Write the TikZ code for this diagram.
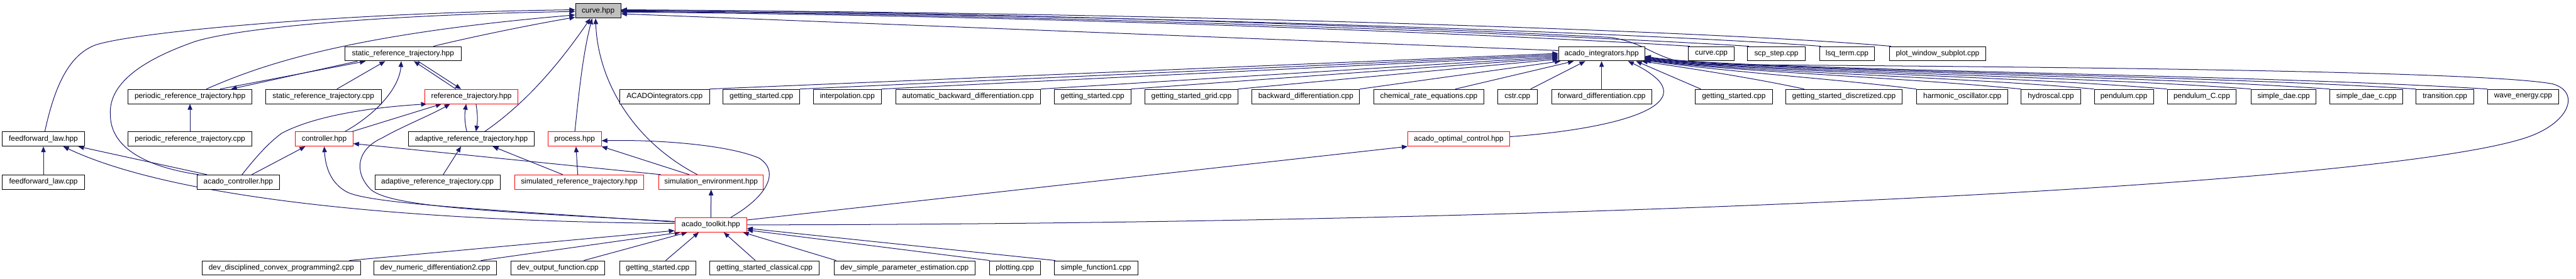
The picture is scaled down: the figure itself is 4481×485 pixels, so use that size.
\documentclass[tikz,border=0pt]{standalone}
\usepackage{fontspec}
\setmainfont{Liberation Sans}
\usetikzlibrary{arrows.meta}
\definecolor{edgeblue}{HTML}{191970}
\definecolor{curvegrey}{HTML}{BFBFBF}
\pgfdeclarelayer{bg}
\pgfsetlayers{bg,main}
\tikzset{
  box/.style={draw=black, line width=1pt, fill=white, minimum height=25pt, inner sep=0pt, font=\fontsize{13}{15}\selectfont},
  redbox/.style={box, draw=red},
  greybox/.style={box, fill=curvegrey},
  dep/.style={draw=edgeblue, line width=1.1pt, -{Triangle[length=10pt,width=8pt]}, fill=none},
}
\begin{document}
\begin{tikzpicture}[x=1pt,y=-1pt]
\useasboundingbox (0,0) rectangle (4481,485);
% row 0
\node[greybox, minimum width=79pt] (curve) at (1040.5,19) {curve.hpp};
% row 1
\node[box, minimum width=202pt] (srth) at (701,93.5) {static\_reference\_trajectory.hpp};
\node[box, minimum width=150pt] (aih) at (2786,93.5) {acado\_integrators.hpp};
\node[box, minimum width=80pt] (curvec) at (2977,93.5) {curve.cpp};
\node[box, minimum width=100pt] (scp) at (3090,93.5) {scp\_step.cpp};
\node[box, minimum width=96pt] (lsq) at (3213,93.5) {lsq\_term.cpp};
\node[box, minimum width=167pt] (pws) at (3370.5,93.5) {plot\_window\_subplot.cpp};
% row 2
\node[box, minimum width=215pt] (prth) at (330.5,168) {periodic\_reference\_trajectory.hpp};
\node[box, minimum width=201pt] (srtc) at (562.5,168) {static\_reference\_trajectory.cpp};
\node[redbox, minimum width=162pt] (rth) at (820,168) {reference\_trajectory.hpp};
\node[box, minimum width=156pt] (aic) at (1156,168) {ACADOintegrators.cpp};
\node[box, minimum width=133pt] (gsa) at (1324.5,168) {getting\_started.cpp};
\node[box, minimum width=118pt] (interp) at (1474,168) {interpolation.cpp};
\node[box, minimum width=252pt] (abd) at (1684,168) {automatic\_backward\_differentiation.cpp};
\node[box, minimum width=133pt] (gsb) at (1900.5,168) {getting\_started.cpp};
\node[box, minimum width=161pt] (gsgrid) at (2072.5,168) {getting\_started\_grid.cpp};
\node[box, minimum width=187pt] (bd) at (2271.5,168) {backward\_differentiation.cpp};
\node[box, minimum width=191pt] (cre) at (2485.5,168) {chemical\_rate\_equations.cpp};
\node[box, minimum width=69pt] (cstr) at (2639.5,168) {cstr.cpp};
\node[box, minimum width=174pt] (fd) at (2786,168) {forward\_differentiation.cpp};
\node[box, minimum width=134pt] (gsc3) at (3016,168) {getting\_started.cpp};
\node[box, minimum width=203pt] (gsd) at (3207.5,168) {getting\_started\_discretized.cpp};
\node[box, minimum width=159pt] (ho) at (3413.5,168) {harmonic\_oscillator.cpp};
\node[box, minimum width=103pt] (hyd) at (3567.5,168) {hydroscal.cpp};
\node[box, minimum width=103pt] (pend) at (3694.5,168) {pendulum.cpp};
\node[box, minimum width=120pt] (pendc) at (3830,168) {pendulum\_C.cpp};
\node[box, minimum width=113pt] (sdae) at (3972.5,168) {simple\_dae.cpp};
\node[box, minimum width=127pt] (sdaec) at (4116.5,168) {simple\_dae\_c.cpp};
\node[box, minimum width=100pt] (trans) at (4253,168) {transition.cpp};
\node[box, minimum width=124pt] (wave) at (4389,168) {wave\_energy.cpp};
% row 3
\node[box, minimum width=143pt] (fflh) at (75.5,242) {feedforward\_law.hpp};
\node[box, minimum width=215pt] (prtc) at (330.5,242) {periodic\_reference\_trajectory.cpp};
\node[redbox, minimum width=100pt] (ctrl) at (564,242) {controller.hpp};
\node[box, minimum width=218pt] (arth) at (820,242) {adaptive\_reference\_trajectory.hpp};
\node[redbox, minimum width=93pt] (proc) at (999.5,242) {process.hpp};
\node[redbox, minimum width=177pt] (aoc) at (2537.5,242) {acado\_optimal\_control.hpp};
% row 4
\node[box, minimum width=143pt] (fflc) at (75.5,317) {feedforward\_law.cpp};
\node[box, minimum width=143pt] (ach) at (414.5,317) {acado\_controller.hpp};
\node[box, minimum width=218pt] (artc) at (761,317) {adaptive\_reference\_trajectory.cpp};
\node[redbox, minimum width=225pt] (simh) at (1007.5,317) {simulated\_reference\_trajectory.hpp};
\node[redbox, minimum width=182pt] (seh) at (1237,317) {simulation\_environment.hpp};
% row 5
\node[redbox, minimum width=125pt] (ath) at (1236.5,391.5) {acado\_toolkit.hpp};
% row 6
\node[box, minimum width=275pt] (ddcp) at (489.5,466.5) {dev\_disciplined\_convex\_programming2.cpp};
\node[box, minimum width=214pt] (dnd) at (757,466.5) {dev\_numeric\_differentiation2.cpp};
\node[box, minimum width=163pt] (dof) at (970.5,466.5) {dev\_output\_function.cpp};
\node[box, minimum width=132pt] (gsd4) at (1144,466.5) {getting\_started.cpp};
\node[box, minimum width=190pt] (gscl) at (1330,466.5) {getting\_started\_classical.cpp};
\node[box, minimum width=245pt] (dspe) at (1573.5,466.5) {dev\_simple\_parameter\_estimation.cpp};
\node[box, minimum width=89pt] (plot) at (1765.5,466.5) {plotting.cpp};
\node[box, minimum width=145pt] (sfa) at (1906.5,466.5) {simple\_function1.cpp};

\begin{pgfonlayer}{bg}
% into curve.hpp, left side
\draw[dep] ([xshift=2.5pt]fflh.north) .. controls (95,150) and (120,95) .. (167,78) .. controls (240,55) and (600,22) .. ([yshift=2pt]curve.west);
\draw[dep] ([xshift=3pt]ach.north west) .. controls (250,290) and (192,255) .. (192,200) .. controls (188,140) and (260,100) .. (340,72) .. controls (430,45) and (700,25) .. ([yshift=-1pt]curve.west);
\draw[dep] ([xshift=28.5pt]prth.north) .. controls (450,115) and (600,60) .. ([yshift=-7pt]curve.west);
\draw[dep] ([xshift=53pt]srth.north) .. controls (830,62) and (930,42) .. ([yshift=-11pt]curve.west);
% into curve.hpp, bottom
\draw[dep] ([xshift=23pt]arth.north) .. controls (900,190) and (960,130) .. ([xshift=-13.5pt]curve.south);
\draw[dep] ([xshift=0.5pt]proc.north) .. controls (1008,150) and (1015,90) .. ([xshift=-10.5pt]curve.south);
\draw[dep] ([xshift=-24pt]seh.north) .. controls (1100,245) and (1040,140) .. ([xshift=-4.5pt]curve.south);
% into curve.hpp, right side
\draw[dep] ([yshift=5.5pt]aih.west) -- ([yshift=-5pt]curve.east);
\draw[dep] ([xshift=3pt]curvec.north west) .. controls (2700,65) and (1900,28) .. ([yshift=-2pt]curve.east);
\draw[dep] ([xshift=3pt]scp.north west) .. controls (2800,65) and (1900,25) .. ([yshift=-1pt]curve.east);
\draw[dep] ([xshift=3pt]lsq.north west) .. controls (2900,60) and (2000,25) .. (curve.east);
\draw[dep] ([xshift=3pt]pws.north west) .. controls (3000,55) and (2000,20) .. ([yshift=1pt]curve.east);
\draw[dep] (ath.east) .. controls (2800,390) and (4150,320) .. (4393,240) .. controls (4470,215) and (4490,160) .. (4440,146) .. controls (4300,120) and (3300,115) .. (2960,112) .. controls (2880,108) and (2870,75) .. (2800,65) .. controls (2400,45) and (1700,20) .. ([yshift=2pt]curve.east);
% acado_toolkit out-edges
\draw[dep] ([yshift=8.5pt]ath.east) -- (aoc.south west);
\draw[dep] ([yshift=4pt]aoc.east) .. controls (2800,225) and (2930,190) .. (2885,140) .. controls (2870,125) and (2850,115) .. ([xshift=46pt]aih.south);
\draw[dep] ([yshift=2.5pt]ath.west) .. controls (700,385) and (300,345) .. ([xshift=34.5pt]fflh.south);
\draw[dep] ([yshift=5pt]ath.west) .. controls (850,365) and (650,355) .. (605,335) .. controls (575,320) and (566,290) .. (ctrl.south);
\draw[dep] ([yshift=6pt]ath.west) .. controls (850,368) and (680,360) .. (645,330) .. controls (615,300) and (620,260) .. (665,240) .. controls (700,220) and (750,200) .. ([xshift=-37pt]rth.south);
\draw[dep] (ath.north) -- (seh.south);
\draw[dep] ([xshift=34.5pt]ath.north) .. controls (1330,345) and (1360,300) .. (1320,275) .. controls (1260,250) and (1130,243) .. ([yshift=-3pt]proc.east);
% middle part
\draw[dep] ([xshift=-38pt]seh.north) -- (proc.south east);
\draw[dep] ([xshift=-2.5pt]simh.north) -- ([xshift=2.5pt]proc.south);
\draw[dep] ([xshift=-28.5pt]simh.north) -- ([xshift=37pt]arth.south);
\draw[dep] ([xshift=10pt]artc.north) -- ([xshift=-18pt]arth.south);
\draw[dep] ([xshift=4pt]seh.north west) -- ([yshift=-8pt]ctrl.east);
\draw[dep] ([xshift=23.5pt]ach.north) -- ([xshift=-33pt]ctrl.south);
\draw[dep] ([xshift=-54.5pt]ach.north) -- ([xshift=60.5pt]fflh.south);
\draw[dep] (fflc) -- (fflh);
\draw[dep] ([xshift=6.5pt]ach.north) .. controls (440,280) and (465,250) .. (490,232) .. controls (560,195) and (680,185) .. ([xshift=4pt]rth.south west);
\draw[dep] ([xshift=-2pt]ctrl.north east) -- ([xshift=-52pt]rth.south);
\draw[dep] ([xshift=36pt]ctrl.north) .. controls (660,195) and (695,150) .. ([xshift=-3pt]srth.south);
\draw[dep] ([xshift=23.5pt]srtc.north) -- ([xshift=-31pt]srth.south);
\draw[dep] ([xshift=52.5pt]prth.north) -- ([xshift=-65pt]srth.south);
\draw[dep] ([xshift=-79pt]srth.south) -- ([xshift=71.5pt]prth.north);
\draw[dep] (prtc) -- (prth);
\draw[dep] ([xshift=26pt]srth.south) -- ([xshift=-18pt]rth.north);
\draw[dep] ([xshift=-27pt]rth.north) -- ([xshift=19pt]srth.south);
\draw[dep] ([xshift=8pt]rth.south) .. controls (831,200) and (831,210) .. ([xshift=8pt]arth.north);
\draw[dep] ([xshift=-8pt]arth.north) .. controls (808,212) and (808,200) .. ([xshift=-9pt]rth.south);
% into acado_integrators.hpp from the left
\draw[dep] (aic.north east) -- ([yshift=0.5pt]aih.west);
\draw[dep] (gsa.north east) -- ([yshift=-1.5pt]aih.west);
\draw[dep] (interp.north east) -- ([yshift=-3.5pt]aih.west);
\draw[dep] (abd.north east) -- ([yshift=-5.5pt]aih.west);
\draw[dep] (gsb.north east) -- ([yshift=-7.5pt]aih.west);
\draw[dep] (gsgrid.north east) -- ([yshift=-9.5pt]aih.west);
\draw[dep] (bd.north east) -- ([xshift=4pt]aih.south west);
\draw[dep] ([xshift=-50pt]cre.north east) -- ([xshift=27pt]aih.south west);
\draw[dep] ([xshift=-12pt]cstr.north east) -- ([xshift=47pt]aih.south west);
\draw[dep] (fd.north) -- (aih.south);
% into acado_integrators.hpp from the right
\draw[dep] ([xshift=10pt]gsc3.north west) -- ([xshift=60pt]aih.south);
\draw[dep] ([xshift=33pt]gsd.north west) .. controls (3060,138) and (2960,122) .. ([xshift=70pt]aih.south);
\draw[dep] (ho.north west) .. controls (3180,136) and (3000,125) .. ([yshift=-11.5pt]aih.east);
\draw[dep] (hyd.north west) .. controls (3300,134) and (3000,124) .. ([yshift=-10.5pt]aih.east);
\draw[dep] (pend.north west) .. controls (3400,133) and (3000,124) .. ([yshift=-9.5pt]aih.east);
\draw[dep] (pendc.north west) .. controls (3500,132) and (3000,123) .. ([yshift=-8.5pt]aih.east);
\draw[dep] (sdae.north west) .. controls (3600,131) and (3000,123) .. ([yshift=-7.5pt]aih.east);
\draw[dep] (sdaec.north west) .. controls (3700,130) and (3000,122) .. ([yshift=-6.5pt]aih.east);
\draw[dep] (trans.north west) .. controls (3800,129) and (3000,122) .. ([yshift=-5.5pt]aih.east);
\draw[dep] (wave.north west) .. controls (3900,128) and (3000,122) .. ([yshift=-4.5pt]aih.east);
% into acado_toolkit.hpp
\draw[dep] ([xshift=-20pt]ddcp.north east) -- ([yshift=3pt]ath.south west);
\draw[dep] ([xshift=-28pt]dnd.north east) -- ([xshift=10pt]ath.south west);
\draw[dep] ([xshift=-37pt]dof.north east) -- ([xshift=22pt]ath.south west);
\draw[dep] ([xshift=14pt]gsd4.north) -- ([xshift=42pt]ath.south west);
\draw[dep] ([xshift=-16pt]gscl.north) -- ([xshift=22.5pt]ath.south);
\draw[dep] ([xshift=4pt]dspe.north west) -- ([xshift=-7pt]ath.south east);
\draw[dep] ([xshift=1pt]plot.north west) -- ([yshift=4pt]ath.south east);
\draw[dep] ([xshift=2pt]sfa.north west) -- ([yshift=7pt]ath.south east);
\end{pgfonlayer}
\end{tikzpicture}
\end{document}
